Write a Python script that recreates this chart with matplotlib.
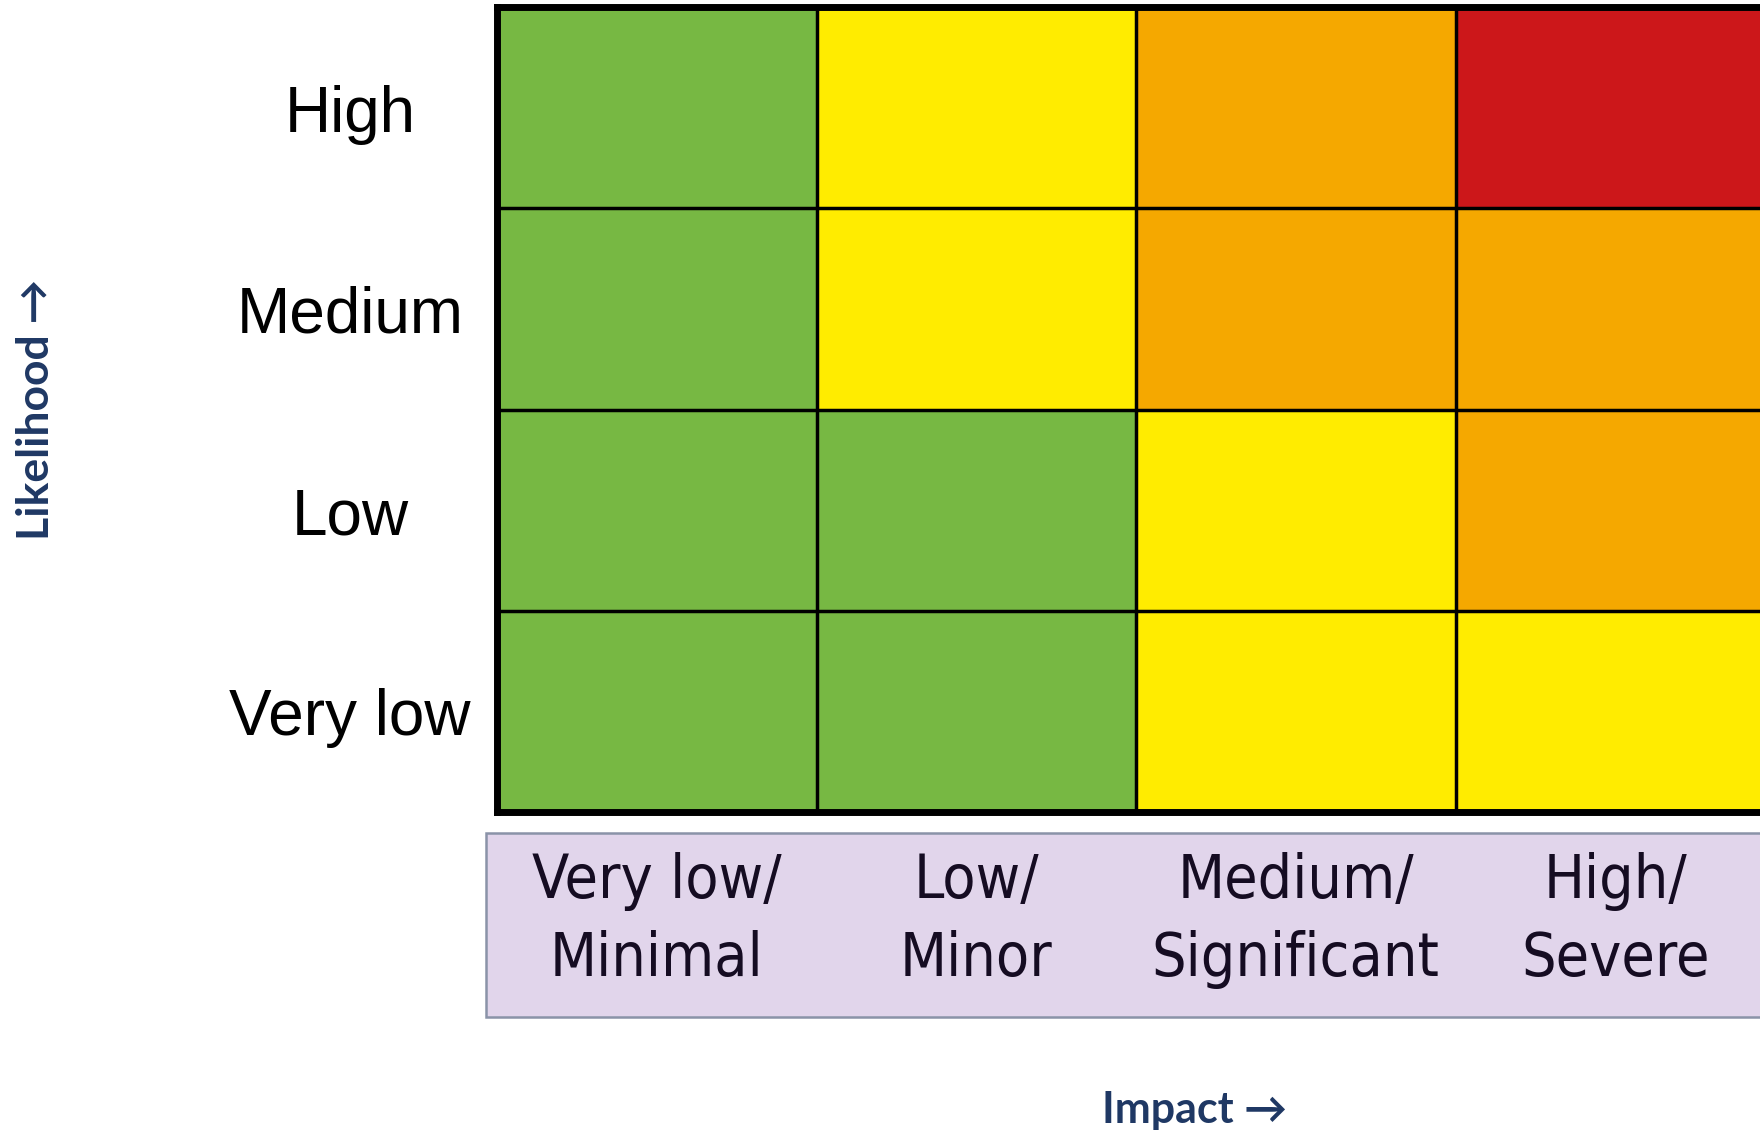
import matplotlib
matplotlib.use("Agg")
import matplotlib.pyplot as plt
import matplotlib.transforms as mtransforms
import matplotlib.font_manager as fm
from matplotlib.colors import ListedColormap
from matplotlib.patches import Rectangle
import numpy as np

# ---- data ----
likelihood_labels = ["Very low", "Low", "Medium", "High"]          # bottom -> top
impact_labels = ["Very low/\nMinimal", "Low/\nMinor", "Medium/\nSignificant", "High/\nSevere"]
# risk level per cell: 0 green, 1 yellow, 2 orange, 3 red ; rows bottom -> top
risk_very_low = [0, 0, 1, 1]
risk_low = [0, 0, 1, 2]
risk_medium = [0, 1, 2, 2]
risk_high = [0, 1, 2, 3]
level_colors = ["#77B843", "#FFEC00", "#F5A800", "#CC171A"]
x_title = "Impact \u2192"
y_title = "Likelihood \u2192"

W, H = 1760, 1136
fig = plt.figure(figsize=(W / 100, H / 100), dpi=100)

grid = np.array([risk_very_low, risk_low, risk_medium, risk_high])
nrow, ncol = grid.shape

# main grid axes (extends beyond the right edge of the figure, as in the reference)
gl, gt, gr, gb = 497, 7, 1775, 812
ax = fig.add_axes([gl / W, 1 - gb / H, (gr - gl) / W, (gb - gt) / H])
cmap = ListedColormap(level_colors)
ax.pcolormesh(np.arange(ncol + 1), np.arange(nrow + 1), grid, cmap=cmap,
              vmin=-0.5, vmax=len(level_colors) - 0.5, shading="flat")
ax.set_xlim(0, ncol)
ax.set_ylim(0, nrow)
for xv in range(1, ncol):
    ax.axvline(xv, color="black", lw=2.5, zorder=3)
for yv in range(1, nrow):
    ax.axhline(yv, color="black", lw=2.5, zorder=3)
for s in ax.spines.values():
    s.set_linewidth(5.0)
    s.set_color("black")
    s.set_zorder(4)
ax.set_xticks([])
ax.set_yticks([])

# row labels (baseline ~24 px below the row centre)
trans_y = mtransforms.blended_transform_factory(fig.transFigure, ax.transData)
trans_y = mtransforms.offset_copy(trans_y, fig=fig, y=-24 * 0.72, units="points")
for i, lab in enumerate(likelihood_labels):
    fig.text(350 / W, i + 0.5, lab, transform=trans_y, ha="center", va="baseline",
             fontsize=46, family=["Liberation Sans", "DejaVu Sans"], color="black")

# impact label box
box = Rectangle((486 / W, 1 - 1017 / H), 1.0, (1017 - 833) / H, transform=fig.transFigure,
                facecolor="#E1D5EB", edgecolor="#8A93A8", lw=1.8, zorder=1)
fig.patches.append(box)

# pick a narrow sans font if one is installed
narrow_file = None
for f in fm.fontManager.ttflist:
    nm = f.name
    if (("Narrow" in nm) or ("Condensed" in nm) or (str(f.stretch) in ("condensed", "semi-condensed"))) \
            and f.style == "normal" and str(f.weight) in ("400", "normal", "regular", "book") \
            and ("Sans" in nm or "Roboto" in nm or "Arial" in nm):
        narrow_file = f.fname
        break
if narrow_file:
    col_fp = fm.FontProperties(fname=narrow_file, size=51)
else:
    col_fp = fm.FontProperties(family="Liberation Sans", size=51)

# scale size so that "Significant" is about 288 px wide
renderer = fig.canvas.get_renderer()
probe = fig.text(0, 0, "Significant", fontproperties=col_fp)
wpx = probe.get_window_extent(renderer).width
probe.remove()
col_size = min(52.0, 51.0 * 288.0 / wpx)
col_fp.set_size(col_size)

trans_x = mtransforms.blended_transform_factory(ax.transData, fig.transFigure)
line_baselines = [898, 976]
for j, lab in enumerate(impact_labels):
    for k, line in enumerate(lab.split("\n")):
        fig.text(j + 0.5, 1 - line_baselines[k] / H, line, transform=trans_x,
                 ha="center", va="baseline", fontproperties=col_fp,
                 color="#150C22", zorder=2)

# axis titles
fig.text(1195 / W, 1 - 1110 / H, x_title, ha="center", va="center", fontsize=31,
         fontweight="bold", family=["Lato", "DejaVu Sans"], color="#1F3864")
fig.text(36 / W, 1 - 409 / H, y_title, ha="center", va="center", fontsize=32, rotation=90,
         fontweight="bold", family=["Lato", "DejaVu Sans"], color="#1F3864")

fig.savefig("out.png", dpi=100)
